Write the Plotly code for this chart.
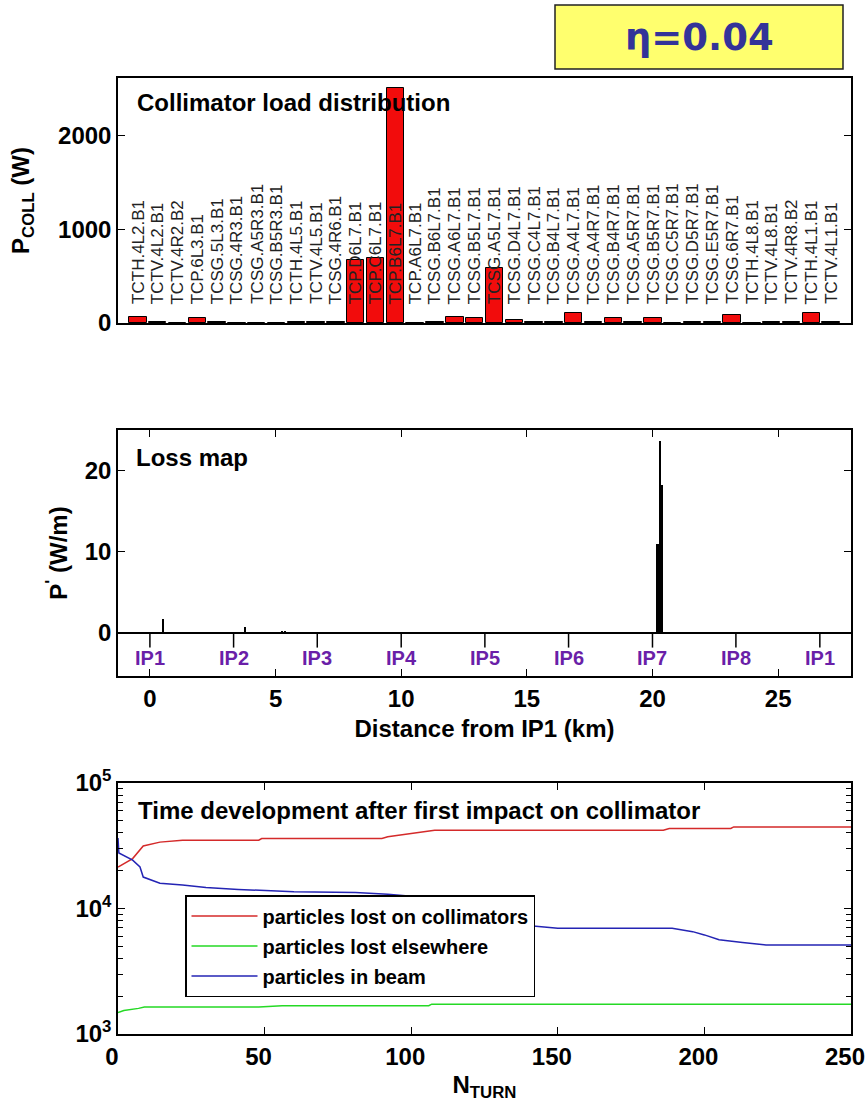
import plotly.graph_objects as go

# ---------------- data ----------------
collimators = [
    "TCTH.4L2.B1", "TCTV.4L2.B1", "TCTV.4R2.B2", "TCP.6L3.B1", "TCSG.5L3.B1",
    "TCSG.4R3.B1", "TCSG.A5R3.B1", "TCSG.B5R3.B1", "TCTH.4L5.B1", "TCTV.4L5.B1",
    "TCSG.4R6.B1", "TCP.D6L7.B1", "TCP.C6L7.B1", "TCP.B6L7.B1", "TCP.A6L7.B1",
    "TCSG.B6L7.B1", "TCSG.A6L7.B1", "TCSG.B5L7.B1", "TCSG.A5L7.B1", "TCSG.D4L7.B1",
    "TCSG.C4L7.B1", "TCSG.B4L7.B1", "TCSG.A4L7.B1", "TCSG.A4R7.B1", "TCSG.B4R7.B1",
    "TCSG.A5R7.B1", "TCSG.B5R7.B1", "TCSG.C5R7.B1", "TCSG.D5R7.B1", "TCSG.E5R7.B1",
    "TCSG.6R7.B1", "TCTH.4L8.B1", "TCTV.4L8.B1", "TCTV.4R8.B2", "TCTH.4L1.B1",
    "TCTV.4L1.B1",
]
coll_load_W = [68, 10, 0, 54, 10, 0, 0, 0, 8, 8,
               8, 671, 689, 2500, 0, 8, 68, 54, 582, 32,
               10, 10, 107, 10, 54, 10, 54, 0, 8, 8,
               89, 0, 8, 8, 104, 8]

loss_pos_km = [0.51, 3.80, 5.25, 5.40, 20.20, 20.25, 20.29, 20.33, 20.37]
loss_W_per_m = [1.7, 0.75, 0.25, 0.25, 11.0, 11.0, 23.7, 18.2, 18.2]

ip_names = ["IP1", "IP2", "IP3", "IP4", "IP5", "IP6", "IP7", "IP8", "IP1"]
ip_km = [0.0, 3.33, 6.66, 10.0, 13.33, 16.66, 20.0, 23.32, 26.66]

turn_ticks = [0, 50, 100, 150, 200, 250]

turn_coll = [0, 5, 8.6, 14.3, 22, 48, 49, 90, 92, 96, 100, 103, 108, 186, 188, 209, 210, 250]
lost_coll = [21400, 25000, 31500, 33800, 35000, 35000, 36100, 36100, 37300, 38400,
             39600, 40800, 42000, 42000, 43400, 43400, 44700, 44700]

turn_else = [0, 2, 7, 9, 48, 56, 106, 107, 250]
lost_else = [1480, 1540, 1600, 1640, 1640, 1680, 1680, 1730, 1730]

turn_beam = [0, 0.3, 5, 7.5, 8.6, 14.3, 22, 30, 41, 60, 81, 92, 100, 105, 110, 120,
             135, 142, 150, 189, 196, 200, 205, 213, 221, 250]
in_beam = [36500, 27700, 24300, 21400, 17800, 15900, 15400, 14700, 14200, 13600,
           13400, 13000, 12500, 11000, 9000, 8000, 7500, 7260, 6960, 6960,
           6540, 6160, 5630, 5350, 5130, 5130]

# ---------------- figure ----------------
W, H = 867, 1102
FONT = "Liberation Sans, Arial, Helvetica, sans-serif"
tickfont = dict(family=FONT, size=24, color="black", weight="bold")

def py(px):
    return 1 - px / H

xdom = [118 / W, 851 / W]

fig = go.Figure()

# top: collimator load bars
fig.add_trace(go.Bar(
    x=list(range(1, len(collimators) + 1)), y=coll_load_W, width=0.88,
    marker=dict(color="#F20C0C", line=dict(color="black", width=1)),
    xaxis="x", yaxis="y", showlegend=False,
))

# middle: loss map
fig.add_trace(go.Bar(
    x=loss_pos_km, y=loss_W_per_m, width=0.05,
    marker=dict(color="black", line=dict(width=0)),
    xaxis="x2", yaxis="y2", showlegend=False,
))
ip_x, ip_y = [], []
for p in ip_km:
    ip_x += [p, p, None]
    ip_y += [0, -1.8, None]
fig.add_trace(go.Scatter(
    x=ip_x, y=ip_y, mode="lines", line=dict(color="black", width=1.5),
    xaxis="x2", yaxis="y2", showlegend=False, hoverinfo="skip",
))

# bottom: time development
fig.add_trace(go.Scatter(x=turn_coll, y=lost_coll, mode="lines",
                         name="particles lost on collimators", legendgroup="a",
                         line=dict(color="#D42A2A", width=1.5), xaxis="x3", yaxis="y3"))
fig.add_trace(go.Scatter(x=turn_else, y=lost_else, mode="lines",
                         name="particles lost elsewhere", legendgroup="b",
                         line=dict(color="#25D925", width=1.5), xaxis="x3", yaxis="y3"))
fig.add_trace(go.Scatter(x=turn_beam, y=in_beam, mode="lines",
                         name="particles in beam", legendgroup="c",
                         line=dict(color="#2424B4", width=1.5), xaxis="x3", yaxis="y3"))

axis_common = dict(showline=True, linecolor="black", linewidth=1.5, mirror="ticks",
                   ticks="inside", ticklen=7, tickwidth=1.2, tickcolor="black",
                   showgrid=False, zeroline=False, tickfont=tickfont, automargin=False,
                   ticklabeloverflow="allow")

annotations = []
for i, name in enumerate(collimators):
    annotations.append(dict(
        x=i + 1, y=180, xref="x", yref="y", text=name, showarrow=False,
        textangle=-90, xanchor="center", yanchor="bottom",
        font=dict(family=FONT, size=17, color="#222222"),
    ))
for name, p in zip(ip_names, ip_km):
    annotations.append(dict(
        x=p, y=-3.1, xref="x2", yref="y2", text=name, showarrow=False,
        xanchor="center", yanchor="middle",
        font=dict(family=FONT, size=20, color="#6A1FA8", weight="bold"),
    ))
title_font = dict(family=FONT, size=24, color="black", weight="bold")
annotations += [
    dict(x=135 / W, y=py(103), xref="paper", yref="paper", text="Collimator load distribution",
         showarrow=False, xanchor="left", yanchor="middle", font=title_font),
    dict(x=134 / W, y=py(457), xref="paper", yref="paper", text="Loss map",
         showarrow=False, xanchor="left", yanchor="middle", font=title_font),
    dict(x=136 / W, y=py(810), xref="paper", yref="paper",
         text="Time development after first impact on collimator",
         showarrow=False, xanchor="left", yanchor="middle", font=title_font),
    dict(x=699 / W, y=py(38), xref="paper", yref="paper", text="η=0.04",
         showarrow=False, xanchor="center", yanchor="middle",
         font=dict(family="DejaVu Sans, Verdana, sans-serif", size=37, color="#333399", weight="bold")),
]

shapes = [dict(type="rect", xref="paper", yref="paper", x0=555 / W, x1=843 / W,
               y0=py(69), y1=py(5), fillcolor="#FFFF6E", line=dict(color="#222222", width=1.5),
               layer="below")]

fig.update_layout(
    width=W, height=H, margin=dict(l=0, r=0, t=0, b=0, autoexpand=False),
    paper_bgcolor="white", plot_bgcolor="white",
    font=dict(family=FONT, color="black"),
    bargap=0,
    xaxis=dict(axis_common, domain=xdom, range=[0, 37], showticklabels=False, ticks="",
               anchor="y"),
    yaxis=dict(axis_common, domain=[py(323), py(78)], range=[0, 2610],
               tickvals=[0, 1000, 2000], anchor="x",
               title=dict(text="P<sub>COLL</sub> (W)", standoff=22,
                          font=dict(family=FONT, size=24, weight="bold"))),
    xaxis2=dict(axis_common, domain=xdom, range=[-1.27, 27.9], tickvals=[0, 5, 10, 15, 20, 25],
                anchor="y2",
                title=dict(text="Distance from IP1 (km)", standoff=10,
                           font=dict(family=FONT, size=24, weight="bold"))),
    yaxis2=dict(axis_common, domain=[py(676), py(430)], range=[-5.3, 25],
                tickvals=[0, 10, 20], anchor="x2", zeroline=True, zerolinecolor="black",
                zerolinewidth=1.5,
                title=dict(text="P<sup>'</sup> (W/m)", standoff=10,
                           font=dict(family=FONT, size=24, weight="bold"))),
    xaxis3=dict(axis_common, domain=xdom, range=[0, 250], tickvals=turn_ticks,
                ticklabelshift=-6, anchor="y3",
                title=dict(text="N<sub>TURN</sub>", standoff=8,
                           font=dict(family=FONT, size=24, weight="bold"))),
    yaxis3=dict(axis_common, domain=[py(1034), py(783)], type="log", range=[3, 5],
                tickvals=[1000, 10000, 100000],
                ticktext=["10<sup>3</sup>", "10<sup>4</sup>", "10<sup>5</sup>"],
                anchor="x3",
                minor=dict(ticks="inside", ticklen=5, tickcolor="black",
                           tickvals=[2000, 3000, 4000, 5000, 6000, 7000, 8000, 9000,
                                     20000, 30000, 40000, 50000, 60000, 70000, 80000, 90000])),
    legend=dict(x=185 / W, y=py(895), xanchor="left", yanchor="top",
                bgcolor="white", bordercolor="black", borderwidth=1.5,
                font=dict(family=FONT, size=20, color="black", weight="bold"),
                itemwidth=66, tracegroupgap=1),
    annotations=annotations,
    shapes=shapes,
)

fig.write_html("out.html", config={"displayModeBar": False},
               post_script="document.body.style.margin='0';document.body.style.overflow='hidden';")
